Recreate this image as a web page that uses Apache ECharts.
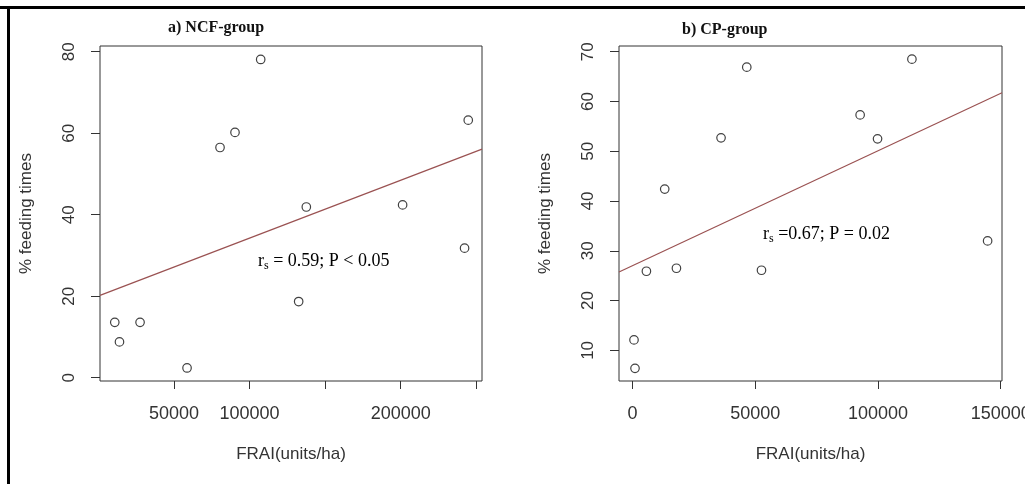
<!DOCTYPE html>
<html>
<head>
<meta charset="utf-8">
<script src="https://cdn.jsdelivr.net/npm/echarts@6/dist/echarts.min.js"></script>
<style>
  html, body { margin: 0; padding: 0; background: #fff; }
  #chart { width: 1025px; height: 484px; }
</style>
</head>
<body>
<div id="chart"></div>
<script>
// ---- data ----
const titleA = 'a) NCF-group';
const titleB = 'b) CP-group';
const xNameTxt = 'FRAI(units/ha)';
const yNameTxt = '% feeding times';

// Panel a) NCF-group
const xA = [10780, 13890, 27510, 58600, 80430, 90340, 107340, 132470, 137540, 201260, 242260, 244700];
const yA = [13.6, 8.8, 13.6, 2.4, 56.5, 60.2, 78.1, 18.7, 41.9, 42.4, 31.8, 63.2];
const fitAx = [1000, 253800];
const fitAy = [20.2, 56.1];
const xTicksA = [50000, 100000, 150000, 200000, 250000];
const xLabelsA = [50000, 100000, 200000];
const yTicksA = [0, 20, 40, 60, 80];
const statA = '= 0.59; P < 0.05';

// Panel b) CP-group
const xB = [650, 1060, 5700, 13160, 17930, 36100, 46580, 52570, 92750, 99840, 113840, 144670];
const yB = [12.1, 6.4, 25.9, 42.4, 26.5, 52.7, 66.9, 26.1, 57.3, 52.5, 68.5, 32.0];
const fitBx = [-5460, 150530];
const fitBy = [25.75, 61.75];
const xTicksB = [0, 50000, 100000, 150000];
const yTicksB = [10, 20, 30, 40, 50, 60, 70];
const statB = '=0.67; P = 0.02';

// ---- build ----
const pts = (xs, ys) => xs.map((x, i) => [x, ys[i]]);
const sans = '"Liberation Sans", Arial, sans-serif';
const serif = '"Liberation Serif", "Times New Roman", serif';
const axisCol = '#333';

function xAxisCfg(gi, min, max, ticks, labels) {
  return {
    type: 'value', gridIndex: gi, min: min, max: max,
    name: xNameTxt, nameLocation: 'middle', nameGap: 65,
    nameTextStyle: { fontFamily: sans, fontSize: 17, color: axisCol },
    axisLine: { show: false, onZero: false },
    axisTick: { show: true, length: 8, customValues: ticks, lineStyle: { color: axisCol, width: 1 } },
    axisLabel: { customValues: labels, margin: 24, fontFamily: sans, fontSize: 18, color: axisCol,
                 formatter: v => String(v) },
    splitLine: { show: false }
  };
}
function yAxisCfg(gi, min, max, ticks) {
  return {
    type: 'value', gridIndex: gi, min: min, max: max,
    name: yNameTxt, nameLocation: 'middle', nameRotate: 90, nameGap: 65,
    nameTextStyle: { fontFamily: sans, fontSize: 17, color: axisCol },
    axisLine: { show: false, onZero: false },
    axisTick: { show: true, length: 9, customValues: ticks, lineStyle: { color: axisCol, width: 1 } },
    axisLabel: { customValues: ticks, rotate: 90, margin: 22, fontFamily: sans, fontSize: 17, color: axisCol,
                 formatter: v => String(v) },
    splitLine: { show: false }
  };
}
function scatterCfg(gi, data) {
  return {
    type: 'scatter', xAxisIndex: gi, yAxisIndex: gi, data: data,
    symbol: 'circle', symbolSize: 8.5,
    itemStyle: { color: '#fff', borderColor: '#111', borderWidth: 1.2 },
    emphasis: { disabled: true }, silent: true
  };
}
function fitCfg(gi, data) {
  return {
    type: 'line', xAxisIndex: gi, yAxisIndex: gi, data: data,
    symbol: 'none', lineStyle: { color: '#9a5252', width: 1.2 },
    emphasis: { disabled: true }, silent: true, z: 1
  };
}
const richStat = {
  m: { fontFamily: serif, fontSize: 18, color: '#222', lineHeight: 22, verticalAlign: 'middle' },
  s: { fontFamily: serif, fontSize: 12, color: '#222', lineHeight: 12, verticalAlign: 'bottom' }
};

const option = {
  animation: false,
  backgroundColor: '#fff',
  grid: [
    { left: 100, top: 46, width: 382, height: 335, outerBoundsMode: 'none', containLabel: false,
      show: true, borderColor: '#333', borderWidth: 1, backgroundColor: 'transparent' },
    { left: 619, top: 46, width: 383, height: 335, outerBoundsMode: 'none', containLabel: false,
      show: true, borderColor: '#333', borderWidth: 1, backgroundColor: 'transparent' }
  ],
  xAxis: [
    xAxisCfg(0, fitAx[0], fitAx[1], xTicksA, xLabelsA),
    xAxisCfg(1, fitBx[0], fitBx[1], xTicksB, xTicksB)
  ],
  yAxis: [
    yAxisCfg(0, -0.8, 81.4, yTicksA),
    yAxisCfg(1, 3.85, 71.15, yTicksB)
  ],
  series: [
    fitCfg(0, pts(fitAx, fitAy)),
    scatterCfg(0, pts(xA, yA)),
    fitCfg(1, pts(fitBx, fitBy)),
    scatterCfg(1, pts(xB, yB))
  ],
  graphic: [
    { type: 'rect', shape: { x: 0, y: 6, width: 1025, height: 3 }, style: { fill: '#000' }, silent: true },
    { type: 'rect', shape: { x: 7, y: 6, width: 3, height: 478 }, style: { fill: '#000' }, silent: true },
    { type: 'text', left: 168, top: 20, style: { text: titleA, fontFamily: serif, fontWeight: 'bold', fontSize: 16, fill: '#111' } },
    { type: 'text', left: 682, top: 22, style: { text: titleB, fontFamily: serif, fontWeight: 'bold', fontSize: 16, fill: '#111' } },
    { type: 'text', left: 258, top: 252, style: { text: '{m|r}{s|s}{m| ' + statA + '}', rich: richStat } },
    { type: 'text', left: 763, top: 225, style: { text: '{m|r}{s|s}{m| ' + statB + '}', rich: richStat } }
  ]
};

const chart = echarts.init(document.getElementById('chart'), null, { renderer: 'canvas' });
chart.setOption(option);
</script>
</body>
</html>
